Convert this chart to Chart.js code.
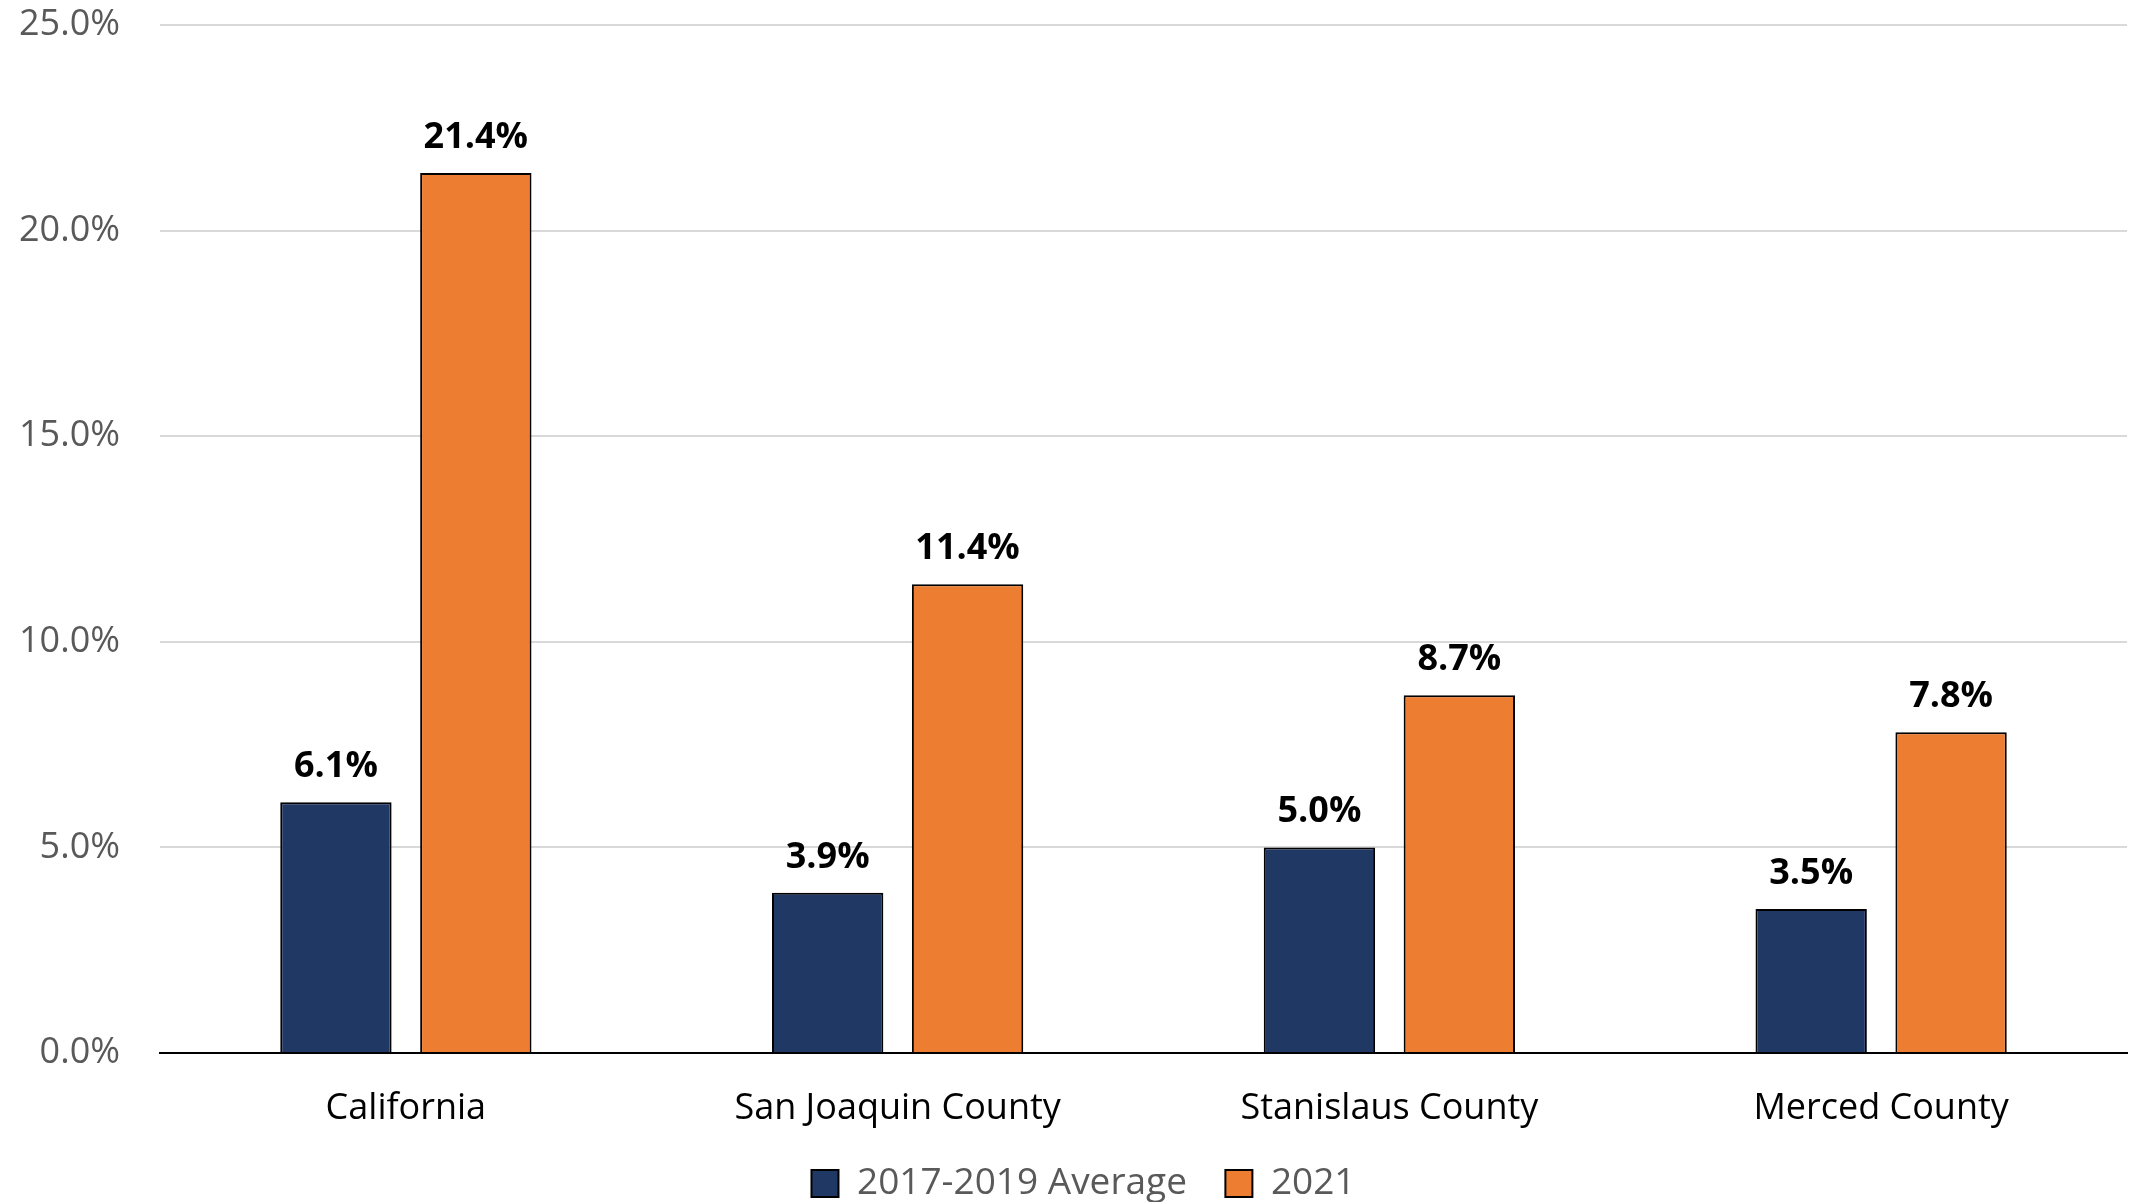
<!DOCTYPE html>
<html>
<head>
<meta charset="utf-8">
<script src="https://cdn.jsdelivr.net/npm/chart.js@4.4.1/dist/chart.umd.min.js"></script>
<style>
  html, body { margin: 0; padding: 0; background: #fff; }
  #wrap { width: 2131px; height: 1202px; }
</style>
</head>
<body>
<div id="wrap"><canvas id="myChart" width="2131" height="1202"></canvas></div>
<script>
var regions = ["California", "San Joaquin County", "Stanislaus County", "Merced County"];
var avg2017_2019 = [6.1, 3.9, 5.0, 3.5];
var y2021 = [21.4, 11.4, 8.7, 7.8];
var yTicks = [0, 5, 10, 15, 20, 25];

var FONT = "'Open Sans', 'Liberation Sans', sans-serif";

// prints the value above each bar
var barLabels = {
    id: 'barLabels',
    afterDatasetsDraw: function (chart) {
        var ctx = chart.ctx;
        ctx.save();
        ctx.font = "bold 36px " + FONT;
        ctx.fillStyle = "#000";
        ctx.textAlign = "center";
        ctx.textBaseline = "alphabetic";
        chart.data.datasets.forEach(function (ds, i) {
            chart.getDatasetMeta(i).data.forEach(function (bar, j) {
                ctx.fillText(ds.data[j].toFixed(1) + "%", bar.x, bar.y - 25);
            });
        });
        ctx.restore();
    }
};

// nudge the legend row a bit to the right
var legendShift = {
    id: 'legendShift',
    afterLayout: function (chart) {
        if (chart.legend) chart.legend.left += 40;
    }
};

const ctx = document.getElementById('myChart');
new Chart(ctx, {
    type: 'bar',
    data: {
        labels: regions,
        datasets: [{
            label: "2017-2019 Average",
            data: avg2017_2019,
            backgroundColor: "#203864",
            borderColor: "#000",
            borderWidth: 2
        }, {
            label: "2021",
            data: y2021,
            backgroundColor: "#ED7D31",
            borderColor: "#000",
            borderWidth: 2
        }]
    },
    options: {
        responsive: false,
        animation: false,
        categoryPercentage: 0.569,
        barPercentage: 0.796,
        layout: { padding: { top: 0, right: 4, left: 0, bottom: -10 } },
        plugins: {
            tooltip: { enabled: false },
            legend: {
                position: 'bottom',
                labels: {
                    boxWidth: 27,
                    boxHeight: 27,
                    padding: 0,
                    color: "#595959",
                    font: { family: FONT, size: 37 },
                    // extra space after each entry so the items sit apart
                    generateLabels: function (chart) {
                        var items = Chart.defaults.plugins.legend.labels.generateLabels(chart);
                        items.forEach(function (it, i) {
                            if (i < items.length - 1) it.text = it.text + "    ";
                        });
                        return items;
                    }
                }
            }
        },
        scales: {
            x: {
                grid: { display: false },
                border: { color: "#000", width: 2 },
                ticks: {
                    color: "#000",
                    padding: 26,
                    font: { family: FONT, size: 36 }
                },
                afterFit: function (scale) { scale.height = 112; }
            },
            y: {
                min: 0,
                max: 25,
                afterBuildTicks: function (scale) {
                    scale.ticks = yTicks.map(function (v) { return { value: v }; });
                },
                grid: { color: "#d9d9d9", lineWidth: 2, drawTicks: false },
                border: { display: false },
                ticks: {
                    color: "#595959",
                    padding: 40,
                    font: { family: FONT, size: 36 },
                    callback: function (v) { return v.toFixed(1) + "%"; }
                },
                afterFit: function (scale) {
                    scale.width = 160;
                    scale.paddingTop = 25;
                    scale.paddingBottom = 22;
                }
            }
        }
    },
    plugins: [barLabels, legendShift]
});
</script>
</body>
</html>
